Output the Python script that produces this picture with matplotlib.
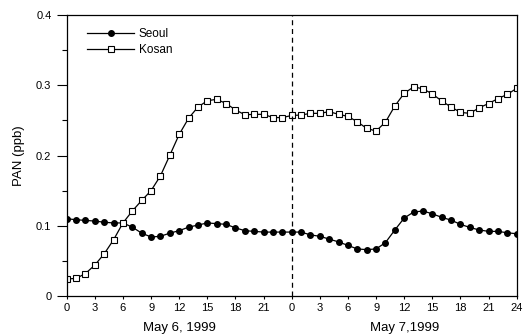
import matplotlib
matplotlib.use("Agg")
import matplotlib.pyplot as plt
import numpy as np

plt.rcParams['font.family'] = ['Liberation Sans', 'DejaVu Sans']

hours = list(range(49))
seoul = [0.110, 0.1086, 0.1076, 0.1067, 0.105, 0.104, 0.104, 0.098, 0.0895, 0.084,
         0.085, 0.0895, 0.093, 0.098, 0.101, 0.104, 0.103, 0.102, 0.097, 0.093,
         0.092, 0.091, 0.091, 0.091,
         0.091, 0.091, 0.087, 0.085, 0.081, 0.077, 0.072, 0.067, 0.066, 0.067,
         0.076, 0.094, 0.111, 0.1195, 0.121, 0.117, 0.112, 0.108, 0.102, 0.0976,
         0.094, 0.092, 0.092, 0.090, 0.0886]
kosan = [0.0243, 0.025, 0.032, 0.044, 0.060, 0.080, 0.104, 0.121, 0.136, 0.150,
         0.171, 0.2004, 0.230, 0.253, 0.269, 0.278, 0.280, 0.274, 0.265, 0.258,
         0.2586, 0.2586, 0.254, 0.254,
         0.257, 0.2576, 0.260, 0.260, 0.2624, 0.2586, 0.2557, 0.248, 0.2386, 0.2348,
         0.2476, 0.2705, 0.2886, 0.2976, 0.295, 0.2876, 0.2776, 0.269, 0.2614, 0.260,
         0.268, 0.274, 0.281, 0.287, 0.2957]
xtick_pos = list(range(0, 49, 3))
xtick_labels = ['0', '3', '6', '9', '12', '15', '18', '21', '0', '3', '6', '9', '12', '15', '18', '21', '24']
day_labels = ['May 6, 1999', 'May 7,1999']

fig = plt.figure(figsize=(5.23, 3.35), dpi=100)
ax = fig.add_axes([0.1275, 0.1164, 0.8605, 0.8388])

ax.plot(hours, seoul, '-', color='black', lw=0.9, marker='o', ms=4,
        mfc='black', mec='black', label='Seoul')
ax.plot(hours, kosan, '-', color='black', lw=0.9, marker='s', ms=3.8,
        mfc='white', mec='black', mew=0.8, label='Kosan')
ax.axvline(24, color='black', ls=(0, (4, 3)), lw=0.9)

ax.set_xlim(0, 48)
ax.set_ylim(0, 0.4)
ax.set_xticks(xtick_pos)
ax.set_xticklabels(xtick_labels, fontsize=8)
ax.set_yticks([0, 0.1, 0.2, 0.3, 0.4])
ax.set_yticklabels(['0', '0.1', '0.2', '0.3', '0.4'], fontsize=8)
ax.set_yticks([0.05, 0.15, 0.25, 0.35], minor=True)
ax.tick_params(axis='x', direction='out', length=2.5, width=0.8, pad=2.5)
ax.tick_params(axis='y', which='major', direction='out', length=7, width=0.8, pad=4)
ax.tick_params(axis='y', which='minor', direction='out', length=3.5, width=0.8)
for s in ax.spines.values():
    s.set_linewidth(0.9)

ax.set_ylabel('PAN (ppb)', fontsize=9.5, labelpad=8)
for xc, lab in zip([12, 36], day_labels):
    ax.annotate(lab, xy=(xc, 0), xycoords='data', xytext=(0, -32),
                textcoords='offset pixels', ha='center', va='center',
                fontsize=9.5, annotation_clip=False)

leg = ax.legend(loc='upper left', bbox_to_anchor=(0.045, 0.955), frameon=False,
                fontsize=8.5, handlelength=4.0, handletextpad=0.4, labelspacing=0.35,
                borderaxespad=0, borderpad=0)

fig.savefig('out.png', dpi=100)
